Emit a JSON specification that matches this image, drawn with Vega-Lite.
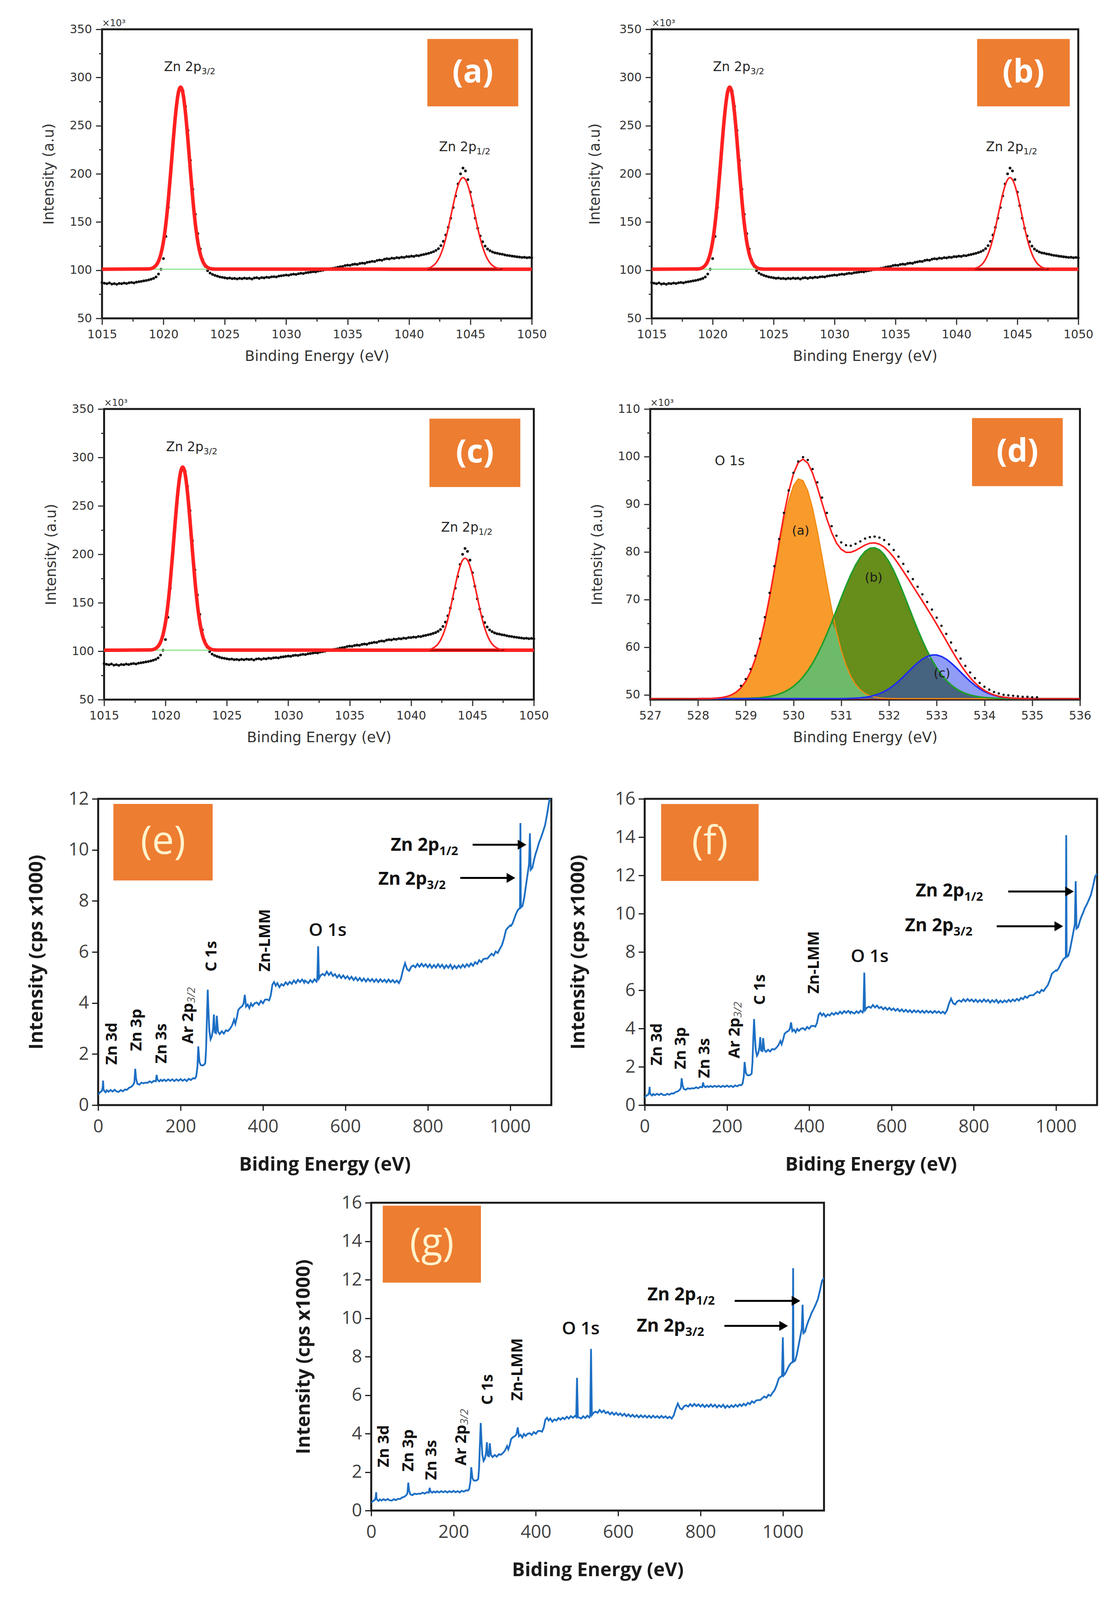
{
  "$schema": "https://vega.github.io/schema/vega-lite/v6.json",
  "background": "white",
  "padding": {"left": 67, "top": 45, "right": 0, "bottom": 10},
  "datasets": {
    "zn_pts": [
      {"x":1015.0,"y":87.2},{"x":1015.2,"y":86.5},{"x":1015.4,"y":86.0},{"x":1015.6,"y":86.8},{"x":1015.8,"y":85.6},
      {"x":1016.0,"y":86.1},{"x":1016.2,"y":85.4},{"x":1016.4,"y":86.3},{"x":1016.6,"y":86.0},{"x":1016.8,"y":86.7},
      {"x":1017.0,"y":86.2},{"x":1017.2,"y":86.9},{"x":1017.4,"y":87.3},{"x":1017.6,"y":86.8},{"x":1017.8,"y":87.6},
      {"x":1018.0,"y":88.0},{"x":1018.2,"y":88.4},{"x":1018.4,"y":88.9},{"x":1018.6,"y":89.3},{"x":1018.8,"y":89.9},
      {"x":1019.0,"y":90.6},{"x":1019.2,"y":91.5},{"x":1019.4,"y":93.0},{"x":1019.6,"y":96.0},{"x":1019.8,"y":101},
      {"x":1020.0,"y":112},{"x":1020.2,"y":135},{"x":1020.4,"y":165},{"x":1020.6,"y":200},{"x":1020.8,"y":236},
      {"x":1021.0,"y":266},{"x":1021.2,"y":285},{"x":1021.4,"y":290},{"x":1021.6,"y":286},{"x":1021.8,"y":270},
      {"x":1022.0,"y":245},{"x":1022.2,"y":214},{"x":1022.4,"y":184},{"x":1022.6,"y":158},{"x":1022.8,"y":138},
      {"x":1023.0,"y":122},{"x":1023.2,"y":111},{"x":1023.4,"y":104},{"x":1023.6,"y":99.5},{"x":1023.8,"y":97},
      {"x":1024.0,"y":95.6},{"x":1024.2,"y":94.6},{"x":1024.4,"y":93.8},{"x":1024.6,"y":93.0},{"x":1024.8,"y":92.6},
      {"x":1025.0,"y":92.1},{"x":1025.2,"y":91.6},{"x":1025.4,"y":91.9},{"x":1025.6,"y":91.2},{"x":1025.8,"y":91.5},
      {"x":1026.0,"y":90.9},{"x":1026.2,"y":91.6},{"x":1026.4,"y":91.1},{"x":1026.6,"y":91.8},{"x":1026.8,"y":91.3},
      {"x":1027.0,"y":91.7},{"x":1027.2,"y":90.8},{"x":1027.4,"y":91.9},{"x":1027.6,"y":92.2},{"x":1027.8,"y":91.5},
      {"x":1028.0,"y":92.3},{"x":1028.2,"y":92.0},{"x":1028.4,"y":92.8},{"x":1028.6,"y":92.4},{"x":1028.8,"y":93.1},
      {"x":1029.0,"y":93.3},{"x":1029.2,"y":93.0},{"x":1029.4,"y":93.9},{"x":1029.6,"y":94.2},{"x":1029.8,"y":94.6},
      {"x":1030.0,"y":95.0},{"x":1030.2,"y":94.7},{"x":1030.4,"y":95.5},{"x":1030.6,"y":95.9},{"x":1030.8,"y":95.6},
      {"x":1031.0,"y":96.3},{"x":1031.2,"y":96.8},{"x":1031.4,"y":96.5},{"x":1031.6,"y":97.3},{"x":1031.8,"y":97.6},
      {"x":1032.0,"y":98.0},{"x":1032.2,"y":98.4},{"x":1032.4,"y":98.2},{"x":1032.6,"y":99.1},{"x":1032.8,"y":99.5},
      {"x":1033.0,"y":100.0},{"x":1033.2,"y":100.6},{"x":1033.4,"y":100.9},{"x":1033.6,"y":101.6},{"x":1033.8,"y":102.0},
      {"x":1034.0,"y":102.4},{"x":1034.2,"y":103.1},{"x":1034.4,"y":103.6},{"x":1034.6,"y":103.9},{"x":1034.8,"y":104.8},
      {"x":1035.0,"y":105.2},{"x":1035.2,"y":105.0},{"x":1035.4,"y":105.9},{"x":1035.6,"y":106.3},{"x":1035.8,"y":106.0},
      {"x":1036.0,"y":107.0},{"x":1036.2,"y":107.4},{"x":1036.4,"y":107.1},{"x":1036.6,"y":108.2},{"x":1036.8,"y":108.6},
      {"x":1037.0,"y":109.2},{"x":1037.2,"y":109.0},{"x":1037.4,"y":110.1},{"x":1037.6,"y":110.6},{"x":1037.8,"y":110.3},
      {"x":1038.0,"y":111.4},{"x":1038.2,"y":111.9},{"x":1038.4,"y":111.6},{"x":1038.6,"y":112.5},{"x":1038.8,"y":112.2},
      {"x":1039.0,"y":113.0},{"x":1039.2,"y":112.7},{"x":1039.4,"y":113.5},{"x":1039.6,"y":113.2},{"x":1039.8,"y":114.1},
      {"x":1040.0,"y":114.0},{"x":1040.2,"y":114.6},{"x":1040.4,"y":114.3},{"x":1040.6,"y":115.2},{"x":1040.8,"y":115.0},
      {"x":1041.0,"y":115.8},{"x":1041.2,"y":116.3},{"x":1041.4,"y":116.9},{"x":1041.6,"y":117.5},{"x":1041.8,"y":118.3},
      {"x":1042.0,"y":119.2},{"x":1042.2,"y":120.5},{"x":1042.4,"y":122.4},{"x":1042.6,"y":125.5},{"x":1042.8,"y":130.0},
      {"x":1043.0,"y":136.5},{"x":1043.2,"y":144.5},{"x":1043.4,"y":154.0},{"x":1043.6,"y":165.0},{"x":1043.8,"y":177.0},
      {"x":1044.0,"y":189.5},{"x":1044.2,"y":200.0},{"x":1044.4,"y":206.0},{"x":1044.6,"y":203.0},{"x":1044.8,"y":194.0},
      {"x":1045.0,"y":181.0},{"x":1045.2,"y":167.0},{"x":1045.4,"y":154.0},{"x":1045.6,"y":143.5},{"x":1045.8,"y":135.5},
      {"x":1046.0,"y":129.5},{"x":1046.2,"y":125.0},{"x":1046.4,"y":122.0},{"x":1046.6,"y":120.2},{"x":1046.8,"y":118.9},
      {"x":1047.0,"y":118.0},{"x":1047.2,"y":117.6},{"x":1047.4,"y":116.9},{"x":1047.6,"y":116.6},{"x":1047.8,"y":115.9},
      {"x":1048.0,"y":115.4},{"x":1048.2,"y":115.1},{"x":1048.4,"y":114.6},{"x":1048.6,"y":114.3},{"x":1048.8,"y":113.9},
      {"x":1049.0,"y":113.6},{"x":1049.2,"y":113.2},{"x":1049.4,"y":113.4},{"x":1049.6,"y":112.9},{"x":1049.8,"y":113.2},
      {"x":1050.0,"y":112.8}
    ],
    "zn_fit1": [
      {"x":1015,"y":101},{"x":1018.8,"y":101.3},{"x":1019.0,"y":101.7},{"x":1019.2,"y":102.8},{"x":1019.4,"y":105.0},
      {"x":1019.6,"y":109.3},{"x":1019.8,"y":117.0},{"x":1020.0,"y":129.5},{"x":1020.2,"y":148.1},{"x":1020.4,"y":173.0},
      {"x":1020.6,"y":202.9},{"x":1020.8,"y":234.6},{"x":1021.0,"y":263.0},{"x":1021.2,"y":282.9},{"x":1021.4,"y":290},
      {"x":1021.6,"y":282.9},{"x":1021.8,"y":263.0},{"x":1022.0,"y":234.6},{"x":1022.2,"y":202.9},{"x":1022.4,"y":173.0},
      {"x":1022.6,"y":148.1},{"x":1022.8,"y":129.5},{"x":1023.0,"y":117.0},{"x":1023.2,"y":109.3},{"x":1023.4,"y":105.0},
      {"x":1023.6,"y":102.8},{"x":1023.8,"y":101.7},{"x":1024.0,"y":101.3},{"x":1024.2,"y":101.1},{"x":1050,"y":101}
    ],
    "zn_fit2": [
      {"x":1041.4,"y":101.6},{"x":1041.6,"y":102.2},{"x":1041.8,"y":103.2},{"x":1042.0,"y":104.9},{"x":1042.2,"y":107.5},
      {"x":1042.4,"y":111.4},{"x":1042.6,"y":116.8},{"x":1042.8,"y":124.0},{"x":1043.0,"y":133.1},{"x":1043.2,"y":143.8},
      {"x":1043.4,"y":155.6},{"x":1043.6,"y":167.6},{"x":1043.8,"y":178.8},{"x":1044.0,"y":187.9},{"x":1044.2,"y":193.9},
      {"x":1044.4,"y":196.0},{"x":1044.6,"y":193.9},{"x":1044.8,"y":187.9},{"x":1045.0,"y":178.8},{"x":1045.2,"y":167.6},
      {"x":1045.4,"y":155.6},{"x":1045.6,"y":143.8},{"x":1045.8,"y":133.1},{"x":1046.0,"y":124.0},{"x":1046.2,"y":116.8},
      {"x":1046.4,"y":111.4},{"x":1046.6,"y":107.5},{"x":1046.8,"y":104.9},{"x":1047.0,"y":103.2},{"x":1047.2,"y":102.2},
      {"x":1047.4,"y":101.6}
    ],
    "zn_lab": [
      {"x":1023.1,"y":306.5,"main":"Zn 2p","sub":"3/2"},
      {"x":1045.5,"y":223.5,"main":"Zn 2p","sub":"1/2"}
    ],
    "o1s": [
      {"x":528.0,"a":49.20,"b":49.20,"c":49.20,"ab":49.20,"bc":49.20,"env":49.20},
      {"x":528.1,"a":49.21,"b":49.20,"c":49.20,"ab":49.20,"bc":49.20,"env":49.21},
      {"x":528.2,"a":49.23,"b":49.20,"c":49.20,"ab":49.20,"bc":49.20,"env":49.23},
      {"x":528.3,"a":49.26,"b":49.20,"c":49.20,"ab":49.20,"bc":49.20,"env":49.26},
      {"x":528.4,"a":49.32,"b":49.20,"c":49.20,"ab":49.20,"bc":49.20,"env":49.32},
      {"x":528.5,"a":49.43,"b":49.20,"c":49.20,"ab":49.20,"bc":49.20,"env":49.43},
      {"x":528.6,"a":49.63,"b":49.20,"c":49.20,"ab":49.20,"bc":49.20,"env":49.63},
      {"x":528.7,"a":49.97,"b":49.21,"c":49.20,"ab":49.21,"bc":49.20,"env":49.98},
      {"x":528.8,"a":50.54,"b":49.22,"c":49.20,"ab":49.22,"bc":49.20,"env":50.56},
      {"x":528.9,"a":51.44,"b":49.23,"c":49.20,"ab":49.23,"bc":49.20,"env":51.47},
      {"x":529.0,"a":52.79,"b":49.25,"c":49.20,"ab":49.25,"bc":49.20,"env":52.84},
      {"x":529.1,"a":54.73,"b":49.28,"c":49.20,"ab":49.28,"bc":49.20,"env":54.81},
      {"x":529.2,"a":57.39,"b":49.33,"c":49.20,"ab":49.33,"bc":49.20,"env":57.52},
      {"x":529.3,"a":60.85,"b":49.40,"c":49.20,"ab":49.40,"bc":49.20,"env":61.05},
      {"x":529.4,"a":65.11,"b":49.51,"c":49.20,"ab":49.51,"bc":49.20,"env":65.42},
      {"x":529.5,"a":70.09,"b":49.66,"c":49.20,"ab":49.66,"bc":49.20,"env":70.55},
      {"x":529.6,"a":75.54,"b":49.87,"c":49.20,"ab":49.87,"bc":49.20,"env":76.21},
      {"x":529.7,"a":81.12,"b":50.16,"c":49.20,"ab":50.16,"bc":49.20,"env":82.08},
      {"x":529.8,"a":86.36,"b":50.56,"c":49.20,"ab":50.56,"bc":49.20,"env":87.72},
      {"x":529.9,"a":90.76,"b":51.09,"c":49.20,"ab":51.09,"bc":49.20,"env":92.65},
      {"x":530.0,"a":93.87,"b":51.77,"c":49.20,"ab":51.77,"bc":49.20,"env":96.44},
      {"x":530.1,"a":95.32,"b":52.64,"c":49.20,"ab":52.64,"bc":49.20,"env":98.76},
      {"x":530.2,"a":94.95,"b":53.72,"c":49.20,"ab":53.72,"bc":49.20,"env":99.47},
      {"x":530.3,"a":92.80,"b":55.05,"c":49.20,"ab":55.05,"bc":49.20,"env":98.65},
      {"x":530.4,"a":89.13,"b":56.61,"c":49.20,"ab":56.61,"bc":49.20,"env":96.54},
      {"x":530.5,"a":84.33,"b":58.44,"c":49.20,"ab":58.44,"bc":49.20,"env":93.57},
      {"x":530.6,"a":78.90,"b":60.50,"c":49.20,"ab":60.50,"bc":49.20,"env":90.20},
      {"x":530.7,"a":73.32,"b":62.78,"c":49.20,"ab":62.78,"bc":49.20,"env":86.90},
      {"x":530.8,"a":68.03,"b":65.23,"c":49.20,"ab":65.23,"bc":49.20,"env":84.06},
      {"x":530.9,"a":63.31,"b":67.78,"c":49.20,"ab":63.31,"bc":49.20,"env":81.89},
      {"x":531.0,"a":59.37,"b":70.36,"c":49.21,"ab":59.37,"bc":49.21,"env":80.54},
      {"x":531.1,"a":56.24,"b":72.85,"c":49.23,"ab":56.24,"bc":49.23,"env":79.92},
      {"x":531.2,"a":53.88,"b":75.18,"c":49.26,"ab":53.88,"bc":49.26,"env":79.92},
      {"x":531.3,"a":52.19,"b":77.22,"c":49.30,"ab":52.19,"bc":49.30,"env":80.31},
      {"x":531.4,"a":51.03,"b":78.88,"c":49.37,"ab":51.03,"bc":49.37,"env":80.88},
      {"x":531.5,"a":50.28,"b":80.09,"c":49.48,"ab":50.28,"bc":49.48,"env":81.45},
      {"x":531.6,"a":49.81,"b":80.76,"c":49.65,"ab":49.81,"bc":49.65,"env":81.82},
      {"x":531.7,"a":49.53,"b":80.87,"c":49.90,"ab":49.53,"bc":49.90,"env":81.90},
      {"x":531.8,"a":49.37,"b":80.42,"c":50.23,"ab":49.37,"bc":50.23,"env":81.62},
      {"x":531.9,"a":49.29,"b":79.43,"c":50.69,"ab":49.29,"bc":50.69,"env":81.01},
      {"x":532.0,"a":49.24,"b":77.94,"c":51.27,"ab":49.24,"bc":51.27,"env":80.05},
      {"x":532.1,"a":49.22,"b":76.04,"c":51.99,"ab":49.22,"bc":51.99,"env":78.85},
      {"x":532.2,"a":49.21,"b":73.81,"c":52.83,"ab":49.21,"bc":52.83,"env":77.45},
      {"x":532.3,"a":49.20,"b":71.37,"c":53.78,"ab":49.20,"bc":53.78,"env":75.95},
      {"x":532.4,"a":49.20,"b":68.82,"c":54.78,"ab":49.20,"bc":54.78,"env":74.40},
      {"x":532.5,"a":49.20,"b":66.24,"c":55.78,"ab":49.20,"bc":55.78,"env":72.82},
      {"x":532.6,"a":49.20,"b":63.74,"c":56.71,"ab":49.20,"bc":56.71,"env":71.25},
      {"x":532.7,"a":49.20,"b":61.39,"c":57.50,"ab":49.20,"bc":57.50,"env":69.69},
      {"x":532.8,"a":49.20,"b":59.23,"c":58.06,"ab":49.20,"bc":58.06,"env":68.09},
      {"x":532.9,"a":49.20,"b":57.31,"c":58.36,"ab":49.20,"bc":57.31,"env":66.47},
      {"x":533.0,"a":49.20,"b":55.64,"c":58.36,"ab":49.20,"bc":55.64,"env":64.80},
      {"x":533.1,"a":49.20,"b":54.22,"c":58.06,"ab":49.20,"bc":54.22,"env":63.08},
      {"x":533.2,"a":49.20,"b":53.05,"c":57.50,"ab":49.20,"bc":53.05,"env":61.35},
      {"x":533.3,"a":49.20,"b":52.09,"c":56.71,"ab":49.20,"bc":52.09,"env":59.60},
      {"x":533.4,"a":49.20,"b":51.34,"c":55.78,"ab":49.20,"bc":51.34,"env":57.92},
      {"x":533.5,"a":49.20,"b":50.75,"c":54.78,"ab":49.20,"bc":50.75,"env":56.33},
      {"x":533.6,"a":49.20,"b":50.31,"c":53.78,"ab":49.20,"bc":50.31,"env":54.89},
      {"x":533.7,"a":49.20,"b":49.97,"c":52.83,"ab":49.20,"bc":49.97,"env":53.60},
      {"x":533.8,"a":49.20,"b":49.73,"c":51.99,"ab":49.20,"bc":49.73,"env":52.52},
      {"x":533.9,"a":49.20,"b":49.56,"c":51.27,"ab":49.20,"bc":49.56,"env":51.63},
      {"x":534.0,"a":49.20,"b":49.44,"c":50.69,"ab":49.20,"bc":49.44,"env":50.93},
      {"x":534.1,"a":49.20,"b":49.36,"c":50.23,"ab":49.20,"bc":49.36,"env":50.39},
      {"x":534.2,"a":49.20,"b":49.30,"c":49.90,"ab":49.20,"bc":49.30,"env":50.00},
      {"x":534.3,"a":49.20,"b":49.26,"c":49.65,"ab":49.20,"bc":49.26,"env":49.71},
      {"x":534.4,"a":49.20,"b":49.24,"c":49.48,"ab":49.20,"bc":49.24,"env":49.52},
      {"x":534.5,"a":49.20,"b":49.22,"c":49.37,"ab":49.20,"bc":49.22,"env":49.39},
      {"x":534.6,"a":49.20,"b":49.21,"c":49.30,"ab":49.20,"bc":49.21,"env":49.31},
      {"x":534.7,"a":49.20,"b":49.20,"c":49.26,"ab":49.20,"bc":49.20,"env":49.26},
      {"x":534.8,"a":49.20,"b":49.20,"c":49.23,"ab":49.20,"bc":49.20,"env":49.23},
      {"x":534.9,"a":49.20,"b":49.20,"c":49.21,"ab":49.20,"bc":49.20,"env":49.21},
      {"x":535.0,"a":49.20,"b":49.20,"c":49.20,"ab":49.20,"bc":49.20,"env":49.20}
    ],
    "o1s_pts": [
      {"x":528.9,"y":51.9},{"x":529.0,"y":53.3},{"x":529.1,"y":55.4},{"x":529.2,"y":58.2},{"x":529.3,"y":61.8},
      {"x":529.4,"y":66.3},{"x":529.5,"y":71.4},{"x":529.6,"y":77.0},{"x":529.7,"y":82.7},{"x":529.8,"y":88.2},
      {"x":529.9,"y":92.9},{"x":530.0,"y":96.6},{"x":530.1,"y":99.0},{"x":530.2,"y":99.9},{"x":530.3,"y":99.3},
      {"x":530.4,"y":97.4},{"x":530.5,"y":94.6},{"x":530.6,"y":91.4},{"x":530.7,"y":88.2},{"x":530.8,"y":85.4},
      {"x":530.9,"y":83.4},{"x":531.0,"y":82.0},{"x":531.1,"y":81.4},{"x":531.2,"y":81.3},{"x":531.3,"y":81.7},
      {"x":531.4,"y":82.2},{"x":531.5,"y":82.8},{"x":531.6,"y":83.1},{"x":531.7,"y":83.2},{"x":531.8,"y":83.0},
      {"x":531.9,"y":82.5},{"x":532.0,"y":81.6},{"x":532.1,"y":80.4},{"x":532.2,"y":79.0},{"x":532.3,"y":77.5},
      {"x":532.4,"y":75.9},{"x":532.5,"y":74.3},{"x":532.6,"y":72.7},{"x":532.7,"y":71.1},{"x":532.8,"y":69.5},
      {"x":532.9,"y":67.9},{"x":533.0,"y":66.2},{"x":533.1,"y":64.5},{"x":533.2,"y":62.8},{"x":533.3,"y":61.0},
      {"x":533.4,"y":59.3},{"x":533.5,"y":57.6},{"x":533.6,"y":56.1},{"x":533.7,"y":54.7},{"x":533.8,"y":53.5},
      {"x":533.9,"y":52.5},{"x":534.0,"y":51.7},{"x":534.1,"y":51.1},{"x":534.2,"y":50.6},{"x":534.3,"y":50.3},
      {"x":534.4,"y":50.0},{"x":534.5,"y":49.9},{"x":534.6,"y":49.8},{"x":534.7,"y":49.7},{"x":534.8,"y":49.6},
      {"x":534.9,"y":49.6},{"x":535.0,"y":49.5},{"x":535.1,"y":49.5}
    ],
    "survey": [
      {"x":0,"e":0.40,"f":0.40,"g":0.40},{"x":3,"e":0.47,"f":0.47,"g":0.47},{"x":6,"e":0.52,"f":0.52,"g":0.52},
      {"x":9,"e":0.55,"f":0.55,"g":0.55},{"x":11,"e":0.70,"f":0.70,"g":0.70},{"x":12,"e":0.96,"f":0.95,"g":0.95},
      {"x":13,"e":0.62,"f":0.62,"g":0.62},{"x":15,"e":0.55,"f":0.55,"g":0.55},{"x":18,"e":0.50,"f":0.50,"g":0.50},
      {"x":21,"e":0.58,"f":0.58,"g":0.58},{"x":25,"e":0.52,"f":0.52,"g":0.52},{"x":30,"e":0.59,"f":0.59,"g":0.59},
      {"x":35,"e":0.53,"f":0.53,"g":0.53},{"x":40,"e":0.60,"f":0.60,"g":0.60},{"x":45,"e":0.53,"f":0.53,"g":0.53},
      {"x":50,"e":0.52,"f":0.52,"g":0.52},{"x":55,"e":0.59,"f":0.59,"g":0.59},{"x":60,"e":0.54,"f":0.54,"g":0.54},
      {"x":65,"e":0.61,"f":0.61,"g":0.61},{"x":70,"e":0.60,"f":0.60,"g":0.60},{"x":75,"e":0.68,"f":0.68,"g":0.68},
      {"x":80,"e":0.71,"f":0.71,"g":0.71},{"x":85,"e":0.79,"f":0.79,"g":0.79},{"x":88,"e":0.90,"f":0.90,"g":0.90},
      {"x":90,"e":1.42,"f":1.40,"g":1.45},{"x":92,"e":1.05,"f":1.05,"g":1.05},{"x":95,"e":0.84,"f":0.84,"g":0.84},
      {"x":100,"e":0.80,"f":0.80,"g":0.80},{"x":105,"e":0.88,"f":0.88,"g":0.88},{"x":110,"e":0.85,"f":0.85,"g":0.85},
      {"x":115,"e":0.88,"f":0.88,"g":0.88},{"x":120,"e":0.87,"f":0.87,"g":0.87},{"x":125,"e":0.93,"f":0.93,"g":0.93},
      {"x":130,"e":0.88,"f":0.88,"g":0.88},{"x":135,"e":0.95,"f":0.95,"g":0.95},{"x":140,"e":0.93,"f":0.93,"g":0.93},
      {"x":142,"e":1.18,"f":1.18,"g":1.18},{"x":144,"e":1.00,"f":1.00,"g":1.00},{"x":148,"e":0.93,"f":0.93,"g":0.93},
      {"x":152,"e":0.99,"f":0.99,"g":0.99},{"x":156,"e":0.94,"f":0.94,"g":0.94},{"x":160,"e":1.00,"f":1.00,"g":1.00},
      {"x":165,"e":0.94,"f":0.94,"g":0.94},{"x":170,"e":1.01,"f":1.01,"g":1.01},{"x":175,"e":0.95,"f":0.95,"g":0.95},
      {"x":180,"e":1.01,"f":1.01,"g":1.01},{"x":185,"e":0.94,"f":0.94,"g":0.94},{"x":190,"e":1.01,"f":1.01,"g":1.01},
      {"x":195,"e":0.95,"f":0.95,"g":0.95},{"x":200,"e":1.02,"f":1.02,"g":1.02},{"x":205,"e":0.95,"f":0.95,"g":0.95},
      {"x":210,"e":1.01,"f":1.01,"g":1.01},{"x":215,"e":0.94,"f":0.94,"g":0.94},{"x":220,"e":1.03,"f":1.03,"g":1.03},
      {"x":225,"e":0.98,"f":0.98,"g":0.98},{"x":230,"e":1.05,"f":1.05,"g":1.05},{"x":235,"e":1.04,"f":1.04,"g":1.04},
      {"x":238,"e":1.12,"f":1.12,"g":1.12},{"x":241,"e":1.50,"f":1.50,"g":1.50},{"x":243,"e":2.30,"f":2.25,"g":2.25},
      {"x":246,"e":1.68,"f":1.68,"g":1.68},{"x":249,"e":1.57,"f":1.57,"g":1.57},{"x":253,"e":1.55,"f":1.55,"g":1.55},
      {"x":257,"e":1.58,"f":1.58,"g":1.58},{"x":260,"e":1.64,"f":1.64,"g":1.64},{"x":262,"e":2.20,"f":2.20,"g":2.20},
      {"x":264,"e":3.40,"f":3.40,"g":3.40},{"x":266,"e":4.52,"f":4.50,"g":4.55},{"x":268,"e":3.60,"f":3.60,"g":3.60},
      {"x":270,"e":2.90,"f":2.90,"g":2.90},{"x":273,"e":2.58,"f":2.58,"g":2.58},{"x":276,"e":2.70,"f":2.70,"g":2.70},
      {"x":279,"e":3.00,"f":3.00,"g":3.00},{"x":281,"e":3.55,"f":3.55,"g":3.55},{"x":283,"e":2.85,"f":2.85,"g":2.85},
      {"x":286,"e":2.82,"f":2.82,"g":2.82},{"x":288,"e":3.50,"f":3.50,"g":3.50},{"x":291,"e":2.88,"f":2.88,"g":2.88},
      {"x":295,"e":2.78,"f":2.78,"g":2.78},{"x":300,"e":2.89,"f":2.89,"g":2.89},{"x":305,"e":2.80,"f":2.80,"g":2.80},
      {"x":310,"e":2.93,"f":2.93,"g":2.93},{"x":315,"e":2.90,"f":2.90,"g":2.90},{"x":320,"e":2.99,"f":2.99,"g":2.99},
      {"x":325,"e":3.12,"f":3.12,"g":3.12},{"x":330,"e":3.35,"f":3.35,"g":3.35},{"x":333,"e":3.18,"f":3.18,"g":3.18},
      {"x":337,"e":3.45,"f":3.45,"g":3.45},{"x":340,"e":3.72,"f":3.72,"g":3.72},{"x":345,"e":3.82,"f":3.82,"g":3.82},
      {"x":350,"e":3.88,"f":3.88,"g":3.88},{"x":353,"e":3.98,"f":3.98,"g":3.98},{"x":356,"e":4.32,"f":4.32,"g":4.32},
      {"x":359,"e":3.86,"f":3.86,"g":3.86},{"x":363,"e":3.94,"f":3.94,"g":3.94},{"x":367,"e":3.80,"f":3.80,"g":3.80},
      {"x":371,"e":3.98,"f":3.98,"g":3.98},{"x":375,"e":3.88,"f":3.88,"g":3.88},{"x":380,"e":3.99,"f":3.99,"g":3.99},
      {"x":385,"e":4.02,"f":4.02,"g":4.02},{"x":390,"e":3.93,"f":3.93,"g":3.93},{"x":395,"e":4.08,"f":4.08,"g":4.08},
      {"x":400,"e":3.99,"f":3.99,"g":3.99},{"x":405,"e":4.13,"f":4.13,"g":4.13},{"x":410,"e":4.14,"f":4.14,"g":4.14},
      {"x":415,"e":4.10,"f":4.10,"g":4.10},{"x":419,"e":4.30,"f":4.30,"g":4.30},{"x":423,"e":4.72,"f":4.72,"g":4.72},
      {"x":427,"e":4.82,"f":4.82,"g":4.82},{"x":431,"e":4.68,"f":4.68,"g":4.68},{"x":435,"e":4.78,"f":4.78,"g":4.78},
      {"x":440,"e":4.62,"f":4.62,"g":4.62},{"x":445,"e":4.74,"f":4.74,"g":4.74},{"x":450,"e":4.68,"f":4.68,"g":4.68},
      {"x":455,"e":4.81,"f":4.81,"g":4.81},{"x":460,"e":4.72,"f":4.72,"g":4.72},{"x":465,"e":4.83,"f":4.83,"g":4.83},
      {"x":470,"e":4.75,"f":4.75,"g":4.75},{"x":475,"e":4.88,"f":4.88,"g":4.88},{"x":480,"e":4.78,"f":4.78,"g":4.78},
      {"x":485,"e":4.91,"f":4.91,"g":4.91},{"x":490,"e":4.82,"f":4.82,"g":4.82},{"x":495,"e":4.92,"f":4.92,"g":4.92},
      {"x":498,"e":4.86,"f":4.86,"g":4.86},{"x":500,"e":4.80,"f":4.80,"g":6.90},{"x":502,"e":4.88,"f":4.88,"g":4.85},
      {"x":505,"e":4.84,"f":4.84,"g":4.84},{"x":510,"e":4.78,"f":4.78,"g":4.78},{"x":515,"e":4.90,"f":4.90,"g":4.90},
      {"x":520,"e":4.81,"f":4.81,"g":4.81},{"x":525,"e":4.93,"f":4.93,"g":4.93},{"x":530,"e":4.84,"f":4.84,"g":4.84},
      {"x":532,"e":4.97,"f":4.97,"g":4.97},{"x":534,"e":6.22,"f":6.92,"g":8.40},{"x":536,"e":4.96,"f":4.96,"g":4.96},
      {"x":540,"e":5.08,"f":5.08,"g":5.08},{"x":545,"e":5.14,"f":5.14,"g":5.14},{"x":550,"e":5.08,"f":5.08,"g":5.08},
      {"x":555,"e":5.23,"f":5.23,"g":5.23},{"x":560,"e":5.10,"f":5.10,"g":5.10},{"x":565,"e":5.20,"f":5.20,"g":5.20},
      {"x":570,"e":5.06,"f":5.06,"g":5.06},{"x":575,"e":5.13,"f":5.13,"g":5.13},{"x":580,"e":5.00,"f":5.00,"g":5.00},
      {"x":585,"e":5.10,"f":5.10,"g":5.10},{"x":590,"e":4.98,"f":4.98,"g":4.98},{"x":595,"e":5.08,"f":5.08,"g":5.08},
      {"x":600,"e":4.96,"f":4.96,"g":4.96},{"x":605,"e":5.05,"f":5.05,"g":5.05},{"x":610,"e":4.93,"f":4.93,"g":4.93},
      {"x":615,"e":5.03,"f":5.03,"g":5.03},{"x":620,"e":4.90,"f":4.90,"g":4.90},{"x":625,"e":5.00,"f":5.00,"g":5.00},
      {"x":630,"e":4.88,"f":4.88,"g":4.88},{"x":635,"e":4.98,"f":4.98,"g":4.98},{"x":640,"e":4.86,"f":4.86,"g":4.86},
      {"x":645,"e":4.96,"f":4.96,"g":4.96},{"x":650,"e":4.84,"f":4.84,"g":4.84},{"x":655,"e":4.95,"f":4.95,"g":4.95},
      {"x":660,"e":4.85,"f":4.85,"g":4.85},{"x":665,"e":4.94,"f":4.94,"g":4.94},{"x":670,"e":4.83,"f":4.83,"g":4.83},
      {"x":675,"e":4.93,"f":4.93,"g":4.93},{"x":680,"e":4.82,"f":4.82,"g":4.82},{"x":685,"e":4.93,"f":4.93,"g":4.93},
      {"x":690,"e":4.83,"f":4.83,"g":4.83},{"x":695,"e":4.91,"f":4.91,"g":4.91},{"x":700,"e":4.81,"f":4.81,"g":4.81},
      {"x":705,"e":4.92,"f":4.92,"g":4.92},{"x":710,"e":4.82,"f":4.82,"g":4.82},{"x":715,"e":4.90,"f":4.90,"g":4.90},
      {"x":720,"e":4.80,"f":4.80,"g":4.80},{"x":725,"e":4.88,"f":4.88,"g":4.88},{"x":730,"e":4.78,"f":4.78,"g":4.78},
      {"x":735,"e":4.95,"f":4.95,"g":4.95},{"x":740,"e":5.30,"f":5.30,"g":5.30},{"x":745,"e":5.56,"f":5.56,"g":5.56},
      {"x":750,"e":5.32,"f":5.32,"g":5.32},{"x":755,"e":5.26,"f":5.26,"g":5.26},{"x":760,"e":5.42,"f":5.42,"g":5.42},
      {"x":765,"e":5.47,"f":5.47,"g":5.47},{"x":770,"e":5.40,"f":5.40,"g":5.40},{"x":775,"e":5.53,"f":5.53,"g":5.53},
      {"x":780,"e":5.42,"f":5.42,"g":5.42},{"x":785,"e":5.54,"f":5.54,"g":5.54},{"x":790,"e":5.43,"f":5.43,"g":5.43},
      {"x":795,"e":5.52,"f":5.52,"g":5.52},{"x":800,"e":5.40,"f":5.40,"g":5.40},{"x":805,"e":5.51,"f":5.51,"g":5.51},
      {"x":810,"e":5.38,"f":5.38,"g":5.38},{"x":815,"e":5.49,"f":5.49,"g":5.49},{"x":820,"e":5.39,"f":5.39,"g":5.39},
      {"x":825,"e":5.52,"f":5.52,"g":5.52},{"x":830,"e":5.40,"f":5.40,"g":5.40},{"x":835,"e":5.50,"f":5.50,"g":5.50},
      {"x":840,"e":5.36,"f":5.36,"g":5.36},{"x":845,"e":5.48,"f":5.48,"g":5.48},{"x":850,"e":5.38,"f":5.38,"g":5.38},
      {"x":855,"e":5.50,"f":5.50,"g":5.50},{"x":860,"e":5.34,"f":5.34,"g":5.34},{"x":865,"e":5.46,"f":5.46,"g":5.46},
      {"x":870,"e":5.36,"f":5.36,"g":5.36},{"x":875,"e":5.47,"f":5.47,"g":5.47},{"x":880,"e":5.38,"f":5.38,"g":5.38},
      {"x":885,"e":5.50,"f":5.50,"g":5.50},{"x":890,"e":5.40,"f":5.40,"g":5.40},{"x":895,"e":5.52,"f":5.52,"g":5.52},
      {"x":900,"e":5.43,"f":5.43,"g":5.43},{"x":905,"e":5.55,"f":5.55,"g":5.55},{"x":910,"e":5.46,"f":5.46,"g":5.46},
      {"x":915,"e":5.60,"f":5.60,"g":5.60},{"x":920,"e":5.53,"f":5.53,"g":5.53},{"x":925,"e":5.68,"f":5.68,"g":5.68},
      {"x":930,"e":5.60,"f":5.60,"g":5.60},{"x":935,"e":5.72,"f":5.72,"g":5.72},{"x":940,"e":5.74,"f":5.74,"g":5.74},
      {"x":945,"e":5.74,"f":5.74,"g":5.74},{"x":950,"e":5.84,"f":5.84,"g":5.84},{"x":955,"e":5.93,"f":5.93,"g":5.93},
      {"x":960,"e":5.86,"f":5.86,"g":5.86},{"x":965,"e":6.02,"f":6.02,"g":6.02},{"x":970,"e":5.96,"f":5.96,"g":5.96},
      {"x":975,"e":6.12,"f":6.12,"g":6.12},{"x":980,"e":6.26,"f":6.26,"g":6.26},{"x":985,"e":6.52,"f":6.52,"g":6.52},
      {"x":990,"e":6.86,"f":6.86,"g":6.86},{"x":995,"e":6.96,"f":6.96,"g":6.96},{"x":998,"e":7.00,"f":7.00,"g":7.00},
      {"x":1000,"e":7.04,"f":7.04,"g":9.00},{"x":1002,"e":7.02,"f":7.02,"g":7.02},{"x":1006,"e":7.12,"f":7.12,"g":7.12},
      {"x":1010,"e":7.30,"f":7.30,"g":7.30},{"x":1014,"e":7.48,"f":7.48,"g":7.48},{"x":1018,"e":7.62,"f":7.62,"g":7.62},
      {"x":1022,"e":7.70,"f":7.70,"g":7.70},{"x":1024,"e":7.72,"f":7.72,"g":7.72},{"x":1025,"e":11.05,"f":14.10,"g":12.60},
      {"x":1026,"e":7.74,"f":7.74,"g":7.74},{"x":1030,"e":7.80,"f":7.80,"g":7.80},{"x":1034,"e":8.10,"f":8.10,"g":8.10},
      {"x":1038,"e":8.55,"f":8.55,"g":8.55},{"x":1042,"e":9.00,"f":9.00,"g":9.00},{"x":1046,"e":9.45,"f":9.45,"g":9.45},
      {"x":1048,"e":10.65,"f":11.70,"g":10.70},{"x":1050,"e":9.22,"f":9.22,"g":9.22},{"x":1054,"e":9.30,"f":9.30,"g":9.30},
      {"x":1058,"e":9.60,"f":9.60,"g":9.60},{"x":1062,"e":9.85,"f":9.85,"g":9.85},{"x":1066,"e":10.05,"f":10.05,"g":10.05},
      {"x":1070,"e":10.28,"f":10.28,"g":10.28},{"x":1075,"e":10.48,"f":10.48,"g":10.48},{"x":1080,"e":10.72,"f":10.72,"g":10.72},
      {"x":1085,"e":10.98,"f":10.98,"g":10.98},{"x":1090,"e":11.42,"f":11.42,"g":11.42},{"x":1095,"e":11.92,"f":11.92,"g":11.92},
      {"x":1100,"e":12.10,"f":12.10,"g":12.10}
    ]
  },
  "spacing": 44,
  "center": true,
  "vconcat": [
    {
      "spacing": 100,
      "hconcat": [
        {
          "width": 1100, "height": 740,
          "layer": [
            {"data": {"name": "zn_pts"}, "mark": {"type": "circle", "size": 50, "color": "#111111", "opacity": 1},
             "encoding": {
               "x": {"field": "x", "type": "quantitative", "scale": {"domain": [1015, 1050], "nice": false, "zero": false},
                     "axis": {"values": [1015,1017.5,1020,1022.5,1025,1027.5,1030,1032.5,1035,1037.5,1040,1042.5,1045,1047.5,1050],
                              "format": "d", "labelExpr": "datum.value % 5 == 0 ? datum.label : ''",
                              "tickSize": {"condition": {"test": "datum.value % 5 == 0", "value": 16}, "value": 8},
                              "tickWidth": 3, "tickColor": "#333333", "labelFont": "DejaVu Sans", "labelFontSize": 30,
                              "labelColor": "#333333", "labelPadding": 10, "title": "Binding Energy (eV)", "titleFont": "DejaVu Sans",
                              "titleFontSize": 37, "titleFontWeight": "normal", "titleColor": "#333333", "titlePadding": 23}},
               "y": {"field": "y", "type": "quantitative", "scale": {"domain": [50, 350], "nice": false, "zero": false},
                     "axis": {"values": [50,75,100,125,150,175,200,225,250,275,300,325,350],
                              "format": "d", "labelExpr": "datum.value % 50 == 0 ? datum.label : ''",
                              "tickSize": {"condition": {"test": "datum.value % 50 == 0", "value": 16}, "value": 8},
                              "tickWidth": 3, "tickColor": "#333333", "labelFont": "DejaVu Sans", "labelFontSize": 30,
                              "labelColor": "#333333", "labelPadding": 10, "title": "Intensity (a.u)", "titleFont": "DejaVu Sans",
                              "titleFontSize": 37, "titleFontWeight": "normal", "titleColor": "#333333", "titlePadding": 33}}
             }},
            {"data": {"values": [{"x": 1015, "y": 101}, {"x": 1050, "y": 101}]},
             "mark": {"type": "line", "color": "#8ee68e", "strokeWidth": 3},
             "encoding": {"x": {"field": "x", "type": "quantitative"}, "y": {"field": "y", "type": "quantitative"}}},
            {"data": {"name": "zn_fit1"}, "mark": {"type": "line", "color": "#ff2020", "strokeWidth": 9, "strokeJoin": "round", "interpolate": "monotone"},
             "encoding": {"x": {"field": "x", "type": "quantitative"}, "y": {"field": "y", "type": "quantitative"}}},
            {"data": {"values": [{"x": 1041.5, "y": 101}, {"x": 1047.6, "y": 101}]},
             "mark": {"type": "line", "color": "#b40d0d", "strokeWidth": 5},
             "encoding": {"x": {"field": "x", "type": "quantitative"}, "y": {"field": "y", "type": "quantitative"}}},
            {"data": {"name": "zn_fit2"}, "mark": {"type": "line", "color": "#ff2020", "strokeWidth": 4, "interpolate": "monotone"},
             "encoding": {"x": {"field": "x", "type": "quantitative"}, "y": {"field": "y", "type": "quantitative"}}},
            {"data": {"name": "zn_lab"}, "mark": {"type": "text", "align": "right", "baseline": "alphabetic", "font": "DejaVu Sans", "fontSize": 33, "color": "#262626"},
             "encoding": {"x": {"field": "x", "type": "quantitative"}, "y": {"field": "y", "type": "quantitative"}, "text": {"field": "main"}}},
            {"data": {"name": "zn_lab"}, "mark": {"type": "text", "align": "left", "baseline": "alphabetic", "dy": 8, "font": "DejaVu Sans", "fontSize": 22, "color": "#262626"},
             "encoding": {"x": {"field": "x", "type": "quantitative"}, "y": {"field": "y", "type": "quantitative"}, "text": {"field": "sub"}}},
            {"data": {"values": [{"x1": 1041.5, "x2": 1048.9, "y1": 270, "y2": 340, "xc": 1045.2, "yc": 305, "t": "(a)"}]},
             "layer": [
               {"mark": {"type": "rect", "color": "#ed7d31"},
                "encoding": {"x": {"field": "x1", "type": "quantitative"}, "x2": {"field": "x2"}, "y": {"field": "y1", "type": "quantitative"}, "y2": {"field": "y2"}}},
               {"mark": {"type": "text", "font": "Open Sans", "fontWeight": "bold", "fontSize": 82, "color": "#ffffff", "align": "center", "baseline": "middle"},
                "encoding": {"x": {"field": "xc", "type": "quantitative"}, "y": {"field": "yc", "type": "quantitative"}, "text": {"field": "t"}}}
             ]},
            {"data": {"values": [{"x": 1015, "y": 350}]},
             "mark": {"type": "text", "align": "left", "baseline": "bottom", "dy": -3, "font": "DejaVu Sans", "fontSize": 24, "color": "#333333"},
             "encoding": {"x": {"field": "x", "type": "quantitative"}, "y": {"field": "y", "type": "quantitative"}, "text": {"value": "×10³"}}}
          ]
        },
        {
          "width": 1092, "height": 740,
          "layer": [
            {"data": {"name": "zn_pts"}, "mark": {"type": "circle", "size": 50, "color": "#111111", "opacity": 1},
             "encoding": {
               "x": {"field": "x", "type": "quantitative", "scale": {"domain": [1015, 1050], "nice": false, "zero": false},
                     "axis": {"values": [1015,1017.5,1020,1022.5,1025,1027.5,1030,1032.5,1035,1037.5,1040,1042.5,1045,1047.5,1050],
                              "format": "d", "labelExpr": "datum.value % 5 == 0 ? datum.label : ''",
                              "tickSize": {"condition": {"test": "datum.value % 5 == 0", "value": 16}, "value": 8},
                              "tickWidth": 3, "tickColor": "#333333", "labelFont": "DejaVu Sans", "labelFontSize": 30,
                              "labelColor": "#333333", "labelPadding": 10, "title": "Binding Energy (eV)", "titleFont": "DejaVu Sans",
                              "titleFontSize": 37, "titleFontWeight": "normal", "titleColor": "#333333", "titlePadding": 23}},
               "y": {"field": "y", "type": "quantitative", "scale": {"domain": [50, 350], "nice": false, "zero": false},
                     "axis": {"values": [50,75,100,125,150,175,200,225,250,275,300,325,350],
                              "format": "d", "labelExpr": "datum.value % 50 == 0 ? datum.label : ''",
                              "tickSize": {"condition": {"test": "datum.value % 50 == 0", "value": 16}, "value": 8},
                              "tickWidth": 3, "tickColor": "#333333", "labelFont": "DejaVu Sans", "labelFontSize": 30,
                              "labelColor": "#333333", "labelPadding": 10, "title": "Intensity (a.u)", "titleFont": "DejaVu Sans",
                              "titleFontSize": 37, "titleFontWeight": "normal", "titleColor": "#333333", "titlePadding": 42}}
             }},
            {"data": {"values": [{"x": 1015, "y": 101}, {"x": 1050, "y": 101}]},
             "mark": {"type": "line", "color": "#8ee68e", "strokeWidth": 3},
             "encoding": {"x": {"field": "x", "type": "quantitative"}, "y": {"field": "y", "type": "quantitative"}}},
            {"data": {"name": "zn_fit1"}, "mark": {"type": "line", "color": "#ff2020", "strokeWidth": 9, "strokeJoin": "round", "interpolate": "monotone"},
             "encoding": {"x": {"field": "x", "type": "quantitative"}, "y": {"field": "y", "type": "quantitative"}}},
            {"data": {"values": [{"x": 1041.5, "y": 101}, {"x": 1047.6, "y": 101}]},
             "mark": {"type": "line", "color": "#b40d0d", "strokeWidth": 5},
             "encoding": {"x": {"field": "x", "type": "quantitative"}, "y": {"field": "y", "type": "quantitative"}}},
            {"data": {"name": "zn_fit2"}, "mark": {"type": "line", "color": "#ff2020", "strokeWidth": 4, "interpolate": "monotone"},
             "encoding": {"x": {"field": "x", "type": "quantitative"}, "y": {"field": "y", "type": "quantitative"}}},
            {"data": {"name": "zn_lab"}, "mark": {"type": "text", "align": "right", "baseline": "alphabetic", "font": "DejaVu Sans", "fontSize": 33, "color": "#262626"},
             "encoding": {"x": {"field": "x", "type": "quantitative"}, "y": {"field": "y", "type": "quantitative"}, "text": {"field": "main"}}},
            {"data": {"name": "zn_lab"}, "mark": {"type": "text", "align": "left", "baseline": "alphabetic", "dy": 8, "font": "DejaVu Sans", "fontSize": 22, "color": "#262626"},
             "encoding": {"x": {"field": "x", "type": "quantitative"}, "y": {"field": "y", "type": "quantitative"}, "text": {"field": "sub"}}},
            {"data": {"values": [{"x1": 1041.7, "x2": 1049.3, "y1": 270, "y2": 340, "xc": 1045.5, "yc": 305, "t": "(b)"}]},
             "layer": [
               {"mark": {"type": "rect", "color": "#ed7d31"},
                "encoding": {"x": {"field": "x1", "type": "quantitative"}, "x2": {"field": "x2"}, "y": {"field": "y1", "type": "quantitative"}, "y2": {"field": "y2"}}},
               {"mark": {"type": "text", "font": "Open Sans", "fontWeight": "bold", "fontSize": 82, "color": "#ffffff", "align": "center", "baseline": "middle"},
                "encoding": {"x": {"field": "xc", "type": "quantitative"}, "y": {"field": "yc", "type": "quantitative"}, "text": {"field": "t"}}}
             ]},
            {"data": {"values": [{"x": 1015, "y": 350}]},
             "mark": {"type": "text", "align": "left", "baseline": "bottom", "dy": -3, "font": "DejaVu Sans", "fontSize": 24, "color": "#333333"},
             "encoding": {"x": {"field": "x", "type": "quantitative"}, "y": {"field": "y", "type": "quantitative"}, "text": {"value": "×10³"}}}
          ]
        }
      ]
    },
    {
      "spacing": 100,
      "hconcat": [
        {
          "width": 1100, "height": 744,
          "layer": [
            {"data": {"name": "zn_pts"}, "mark": {"type": "circle", "size": 50, "color": "#111111", "opacity": 1},
             "encoding": {
               "x": {"field": "x", "type": "quantitative", "scale": {"domain": [1015, 1050], "nice": false, "zero": false},
                     "axis": {"values": [1015,1017.5,1020,1022.5,1025,1027.5,1030,1032.5,1035,1037.5,1040,1042.5,1045,1047.5,1050],
                              "format": "d", "labelExpr": "datum.value % 5 == 0 ? datum.label : ''",
                              "tickSize": {"condition": {"test": "datum.value % 5 == 0", "value": 16}, "value": 8},
                              "tickWidth": 3, "tickColor": "#333333", "labelFont": "DejaVu Sans", "labelFontSize": 30,
                              "labelColor": "#333333", "labelPadding": 10, "title": ["Binding Energy (eV)", ""], "titleLineHeight": 66, "titleFont": "DejaVu Sans",
                              "titleFontSize": 37, "titleFontWeight": "normal", "titleColor": "#333333", "titlePadding": 23}},
               "y": {"field": "y", "type": "quantitative", "scale": {"domain": [50, 350], "nice": false, "zero": false},
                     "axis": {"values": [50,75,100,125,150,175,200,225,250,275,300,325,350],
                              "format": "d", "labelExpr": "datum.value % 50 == 0 ? datum.label : ''",
                              "tickSize": {"condition": {"test": "datum.value % 50 == 0", "value": 16}, "value": 8},
                              "tickWidth": 3, "tickColor": "#333333", "labelFont": "DejaVu Sans", "labelFontSize": 30,
                              "labelColor": "#333333", "labelPadding": 10, "title": "Intensity (a.u)", "titleFont": "DejaVu Sans",
                              "titleFontSize": 37, "titleFontWeight": "normal", "titleColor": "#333333", "titlePadding": 33}}
             }},
            {"data": {"values": [{"x": 1015, "y": 101}, {"x": 1050, "y": 101}]},
             "mark": {"type": "line", "color": "#8ee68e", "strokeWidth": 3},
             "encoding": {"x": {"field": "x", "type": "quantitative"}, "y": {"field": "y", "type": "quantitative"}}},
            {"data": {"name": "zn_fit1"}, "mark": {"type": "line", "color": "#ff2020", "strokeWidth": 9, "strokeJoin": "round", "interpolate": "monotone"},
             "encoding": {"x": {"field": "x", "type": "quantitative"}, "y": {"field": "y", "type": "quantitative"}}},
            {"data": {"values": [{"x": 1041.5, "y": 101}, {"x": 1047.6, "y": 101}]},
             "mark": {"type": "line", "color": "#b40d0d", "strokeWidth": 5},
             "encoding": {"x": {"field": "x", "type": "quantitative"}, "y": {"field": "y", "type": "quantitative"}}},
            {"data": {"name": "zn_fit2"}, "mark": {"type": "line", "color": "#ff2020", "strokeWidth": 4, "interpolate": "monotone"},
             "encoding": {"x": {"field": "x", "type": "quantitative"}, "y": {"field": "y", "type": "quantitative"}}},
            {"data": {"name": "zn_lab"}, "mark": {"type": "text", "align": "right", "baseline": "alphabetic", "font": "DejaVu Sans", "fontSize": 33, "color": "#262626"},
             "encoding": {"x": {"field": "x", "type": "quantitative"}, "y": {"field": "y", "type": "quantitative"}, "text": {"field": "main"}}},
            {"data": {"name": "zn_lab"}, "mark": {"type": "text", "align": "left", "baseline": "alphabetic", "dy": 8, "font": "DejaVu Sans", "fontSize": 22, "color": "#262626"},
             "encoding": {"x": {"field": "x", "type": "quantitative"}, "y": {"field": "y", "type": "quantitative"}, "text": {"field": "sub"}}},
            {"data": {"values": [{"x1": 1041.5, "x2": 1048.9, "y1": 269.5, "y2": 340, "xc": 1045.2, "yc": 304.8, "t": "(c)"}]},
             "layer": [
               {"mark": {"type": "rect", "color": "#ed7d31"},
                "encoding": {"x": {"field": "x1", "type": "quantitative"}, "x2": {"field": "x2"}, "y": {"field": "y1", "type": "quantitative"}, "y2": {"field": "y2"}}},
               {"mark": {"type": "text", "font": "Open Sans", "fontWeight": "bold", "fontSize": 82, "color": "#ffffff", "align": "center", "baseline": "middle"},
                "encoding": {"x": {"field": "xc", "type": "quantitative"}, "y": {"field": "yc", "type": "quantitative"}, "text": {"field": "t"}}}
             ]},
            {"data": {"values": [{"x": 1015, "y": 350}]},
             "mark": {"type": "text", "align": "left", "baseline": "bottom", "dy": -43, "lineHeight": 40, "font": "DejaVu Sans", "fontSize": 24, "color": "#333333"},
             "encoding": {"x": {"field": "x", "type": "quantitative"}, "y": {"field": "y", "type": "quantitative"}, "text": {"value": ["", "×10³"]}}}
          ]
        },
        {
          "width": 1100, "height": 744,
          "layer": [
            {"data": {"values": [{"x": 527, "y": 49.2}, {"x": 536, "y": 49.2}]},
             "mark": {"type": "line", "color": "#c81e1e", "strokeWidth": 4},
             "encoding": {
               "x": {"field": "x", "type": "quantitative", "scale": {"domain": [527, 536], "nice": false, "zero": false},
                     "axis": {"values": [527,527.5,528,528.5,529,529.5,530,530.5,531,531.5,532,532.5,533,533.5,534,534.5,535,535.5,536],
                              "format": "d", "labelExpr": "datum.value % 1 == 0 ? datum.label : ''",
                              "tickSize": {"condition": {"test": "datum.value % 1 == 0", "value": 16}, "value": 8},
                              "tickWidth": 3, "tickColor": "#333333", "labelFont": "DejaVu Sans", "labelFontSize": 30,
                              "labelColor": "#333333", "labelPadding": 10, "title": ["Binding Energy (eV)", ""], "titleLineHeight": 66, "titleFont": "DejaVu Sans",
                              "titleFontSize": 37, "titleFontWeight": "normal", "titleColor": "#333333", "titlePadding": 23}},
               "y": {"field": "y", "type": "quantitative", "scale": {"domain": [49, 110], "nice": false, "zero": false},
                     "axis": {"values": [50,55,60,65,70,75,80,85,90,95,100,105,110],
                              "format": "d", "labelExpr": "datum.value % 10 == 0 ? datum.label : ''",
                              "tickSize": {"condition": {"test": "datum.value % 10 == 0", "value": 16}, "value": 8},
                              "tickWidth": 3, "tickColor": "#333333", "labelFont": "DejaVu Sans", "labelFontSize": 30,
                              "labelColor": "#333333", "labelPadding": 10, "title": "Intensity (a.u)", "titleFont": "DejaVu Sans",
                              "titleFontSize": 37, "titleFontWeight": "normal", "titleColor": "#333333", "titlePadding": 33}}
             }},
            {"data": {"name": "o1s"}, "mark": {"type": "area", "color": "#f99b2c", "opacity": 1},
             "encoding": {"x": {"field": "x", "type": "quantitative"}, "y": {"field": "a", "type": "quantitative"}, "y2": {"datum": 49.2}}},
            {"data": {"name": "o1s"}, "mark": {"type": "area", "color": "#678d1b", "opacity": 1},
             "encoding": {"x": {"field": "x", "type": "quantitative"}, "y": {"field": "b", "type": "quantitative"}, "y2": {"datum": 49.2}}},
            {"data": {"name": "o1s"}, "mark": {"type": "area", "color": "#6dbb6a", "opacity": 1},
             "encoding": {"x": {"field": "x", "type": "quantitative"}, "y": {"field": "ab", "type": "quantitative"}, "y2": {"datum": 49.2}}},
            {"data": {"name": "o1s"}, "mark": {"type": "area", "color": "#8f9df6", "opacity": 1},
             "encoding": {"x": {"field": "x", "type": "quantitative"}, "y": {"field": "c", "type": "quantitative"}, "y2": {"datum": 49.2}}},
            {"data": {"name": "o1s"}, "mark": {"type": "area", "color": "#46637f", "opacity": 1},
             "encoding": {"x": {"field": "x", "type": "quantitative"}, "y": {"field": "bc", "type": "quantitative"}, "y2": {"datum": 49.2}}},
            {"data": {"name": "o1s"}, "mark": {"type": "line", "color": "#f08a10", "strokeWidth": 3},
             "encoding": {"x": {"field": "x", "type": "quantitative"}, "y": {"field": "a", "type": "quantitative"}}},
            {"data": {"name": "o1s"}, "mark": {"type": "line", "color": "#1e9e2a", "strokeWidth": 4},
             "encoding": {"x": {"field": "x", "type": "quantitative"}, "y": {"field": "b", "type": "quantitative"}}},
            {"data": {"name": "o1s"}, "mark": {"type": "line", "color": "#1f2ef5", "strokeWidth": 4},
             "encoding": {"x": {"field": "x", "type": "quantitative"}, "y": {"field": "c", "type": "quantitative"}}},
            {"data": {"name": "o1s"}, "mark": {"type": "line", "color": "#ff2020", "strokeWidth": 4},
             "encoding": {"x": {"field": "x", "type": "quantitative"}, "y": {"field": "env", "type": "quantitative"}}},
            {"data": {"name": "o1s_pts"}, "mark": {"type": "circle", "size": 36, "color": "#111111", "opacity": 1},
             "encoding": {"x": {"field": "x", "type": "quantitative"}, "y": {"field": "y", "type": "quantitative"}}},
            {"data": {"values": [{"x": 528.35, "y": 98.2, "t": "O 1s"}]},
             "mark": {"type": "text", "align": "left", "baseline": "alphabetic", "font": "DejaVu Sans", "fontSize": 34, "color": "#262626"},
             "encoding": {"x": {"field": "x", "type": "quantitative"}, "y": {"field": "y", "type": "quantitative"}, "text": {"field": "t"}}},
            {"data": {"values": [{"x": 530.15, "y": 84.4, "t": "(a)"}, {"x": 531.68, "y": 74.6, "t": "(b)"}, {"x": 533.11, "y": 54.5, "t": "(c)"}]},
             "mark": {"type": "text", "align": "center", "baseline": "middle", "font": "DejaVu Sans", "fontSize": 32, "color": "#1a1a1a"},
             "encoding": {"x": {"field": "x", "type": "quantitative"}, "y": {"field": "y", "type": "quantitative"}, "text": {"field": "t"}}},
            {"data": {"values": [{"x1": 533.74, "x2": 535.64, "y1": 93.8, "y2": 108.1, "xc": 534.69, "yc": 100.95, "t": "(d)"}]},
             "layer": [
               {"mark": {"type": "rect", "color": "#ed7d31"},
                "encoding": {"x": {"field": "x1", "type": "quantitative"}, "x2": {"field": "x2"}, "y": {"field": "y1", "type": "quantitative"}, "y2": {"field": "y2"}}},
               {"mark": {"type": "text", "font": "Open Sans", "fontWeight": "bold", "fontSize": 82, "color": "#ffffff", "align": "center", "baseline": "middle"},
                "encoding": {"x": {"field": "xc", "type": "quantitative"}, "y": {"field": "yc", "type": "quantitative"}, "text": {"field": "t"}}}
             ]},
            {"data": {"values": [{"x": 527, "y": 110}]},
             "mark": {"type": "text", "align": "left", "baseline": "bottom", "dy": -43, "lineHeight": 40, "font": "DejaVu Sans", "fontSize": 24, "color": "#333333"},
             "encoding": {"x": {"field": "x", "type": "quantitative"}, "y": {"field": "y", "type": "quantitative"}, "text": {"value": ["", "×10³"]}}}
          ]
        }
      ]
    },
    {
      "spacing": 39,
      "hconcat": [
        {
          "width": 1160, "height": 784,
          "layer": [
            {"data": {"name": "survey"}, "mark": {"type": "line", "color": "#1d6fc4", "strokeWidth": 4.5, "clip": true},
             "encoding": {
               "x": {"field": "x", "type": "quantitative", "scale": {"domain": [0, 1100], "nice": false, "zero": false},
                     "axis": {"values": [0,200,400,600,800,1000], "format": "d", "tickSize": 14, "tickWidth": 3, "tickColor": "#1a1a1a",
                              "labelFont": "Open Sans", "labelFontSize": 46, "labelColor": "#404040", "labelPadding": 19,
                              "title": "Biding Energy (eV)", "titleFont": "Open Sans", "titleFontSize": 49, "titleFontWeight": "bold",
                              "titleColor": "#1a1a1a", "titlePadding": 50}},
               "y": {"field": "e", "type": "quantitative", "scale": {"domain": [0, 12], "nice": false, "zero": false},
                     "axis": {"values": [0,2,4,6,8,10,12], "format": "d", "tickSize": 16, "tickWidth": 3, "tickColor": "#1a1a1a",
                              "labelFont": "Open Sans", "labelFontSize": 46, "labelColor": "#404040", "labelPadding": 8,
                              "title": "Intensity (cps x1000)", "titleFont": "Open Sans", "titleFontSize": 49, "titleFontWeight": "bold",
                              "titleColor": "#1a1a1a", "titlePadding": 56}}
             }},
            {"data": {"values": [{"x": 34, "y": 1.58, "t": "Zn 3d"}, {"x": 94, "y": 2.12, "t": "Zn 3p"}, {"x": 154, "y": 1.63, "t": "Zn 3s"}, {"x": 276, "y": 5.23, "t": "C 1s"}, {"x": 406, "y": 5.23, "t": "Zn-LMM"}]},
             "mark": {"type": "text", "angle": 270, "align": "left", "baseline": "middle", "font": "Open Sans", "fontWeight": "bold", "fontSize": 40, "color": "#111111"},
             "encoding": {"x": {"field": "x", "type": "quantitative"}, "y": {"field": "y", "type": "quantitative"}, "text": {"field": "t"}}},
            {"data": {"values": [{"x": 219, "y": 4.0, "t": "Ar 2p", "s": "3/2"}]},
             "layer": [
               {"mark": {"type": "text", "angle": 270, "align": "right", "baseline": "middle", "font": "Open Sans", "fontWeight": "bold", "fontSize": 40, "color": "#111111"},
                "encoding": {"x": {"field": "x", "type": "quantitative"}, "y": {"field": "y", "type": "quantitative"}, "text": {"field": "t"}}},
               {"mark": {"type": "text", "angle": 270, "align": "left", "baseline": "middle", "dy": 9, "font": "Open Sans", "fontStyle": "italic", "fontSize": 28, "color": "#555555"},
                "encoding": {"x": {"field": "x", "type": "quantitative"}, "y": {"field": "y", "type": "quantitative"}, "text": {"field": "s"}}}
             ]},
            {"data": {"values": [{"x": 557, "y": 6.63, "t": "O 1s"}]},
             "mark": {"type": "text", "align": "center", "baseline": "alphabetic", "font": "Open Sans", "fontWeight": 600, "fontSize": 46, "color": "#111111"},
             "encoding": {"x": {"field": "x", "type": "quantitative"}, "y": {"field": "y", "type": "quantitative"}, "text": {"field": "t"}}},
            {"data": {"values": [{"x": 828, "y": 9.96, "t": "Zn 2p", "s": "1/2"}, {"x": 798, "y": 8.63, "t": "Zn 2p", "s": "3/2"}]},
             "layer": [
               {"mark": {"type": "text", "align": "right", "baseline": "alphabetic", "font": "Open Sans", "fontWeight": "bold", "fontSize": 46, "color": "#111111"},
                "encoding": {"x": {"field": "x", "type": "quantitative"}, "y": {"field": "y", "type": "quantitative"}, "text": {"field": "t"}}},
               {"mark": {"type": "text", "align": "left", "baseline": "alphabetic", "dy": 11, "font": "Open Sans", "fontWeight": "bold", "fontSize": 31, "color": "#111111"},
                "encoding": {"x": {"field": "x", "type": "quantitative"}, "y": {"field": "y", "type": "quantitative"}, "text": {"field": "s"}}}
             ]},
            {"data": {"values": [{"x1": 909, "x2": 1029, "y": 10.2}, {"x1": 879, "x2": 1002, "y": 8.9}]},
             "layer": [
               {"mark": {"type": "rule", "color": "#000000", "strokeWidth": 5},
                "encoding": {"x": {"field": "x1", "type": "quantitative"}, "x2": {"field": "x2"}, "y": {"field": "y", "type": "quantitative"}}},
               {"mark": {"type": "point", "shape": "triangle-right", "filled": true, "size": 650, "color": "#000000", "opacity": 1},
                "encoding": {"x": {"field": "x2", "type": "quantitative"}, "y": {"field": "y", "type": "quantitative"}}}
             ]},
            {"data": {"values": [{"x1": 37, "x2": 278, "y1": 8.8, "y2": 11.8, "xc": 157.5, "yc": 10.3, "t": "(e)"}]},
             "layer": [
               {"mark": {"type": "rect", "color": "#ed7d31"},
                "encoding": {"x": {"field": "x1", "type": "quantitative"}, "x2": {"field": "x2"}, "y": {"field": "y1", "type": "quantitative"}, "y2": {"field": "y2"}}},
               {"mark": {"type": "text", "font": "Open Sans", "fontSize": 100, "color": "#fff2cc", "align": "center", "baseline": "middle"},
                "encoding": {"x": {"field": "xc", "type": "quantitative"}, "y": {"field": "yc", "type": "quantitative"}, "text": {"field": "t"}}}
             ]}
          ]
        },
        {
          "width": 1158, "height": 784,
          "layer": [
            {"data": {"name": "survey"}, "mark": {"type": "line", "color": "#1d6fc4", "strokeWidth": 4.5, "clip": true},
             "encoding": {
               "x": {"field": "x", "type": "quantitative", "scale": {"domain": [0, 1100], "nice": false, "zero": false},
                     "axis": {"values": [0,200,400,600,800,1000], "format": "d", "tickSize": 14, "tickWidth": 3, "tickColor": "#1a1a1a",
                              "labelFont": "Open Sans", "labelFontSize": 46, "labelColor": "#404040", "labelPadding": 19,
                              "title": "Biding Energy (eV)", "titleFont": "Open Sans", "titleFontSize": 49, "titleFontWeight": "bold",
                              "titleColor": "#1a1a1a", "titlePadding": 50}},
               "y": {"field": "f", "type": "quantitative", "scale": {"domain": [0, 16], "nice": false, "zero": false},
                     "axis": {"values": [0,2,4,6,8,10,12,14,16], "format": "d", "tickSize": 16, "tickWidth": 3, "tickColor": "#1a1a1a",
                              "labelFont": "Open Sans", "labelFontSize": 46, "labelColor": "#404040", "labelPadding": 8,
                              "title": "Intensity (cps x1000)", "titleFont": "Open Sans", "titleFontSize": 49, "titleFontWeight": "bold",
                              "titleColor": "#1a1a1a", "titlePadding": 68}}
             }},
            {"data": {"values": [{"x": 30, "y": 2.07, "t": "Zn 3d"}, {"x": 88, "y": 1.87, "t": "Zn 3p"}, {"x": 146, "y": 1.41, "t": "Zn 3s"}, {"x": 281, "y": 5.23, "t": "C 1s"}, {"x": 412, "y": 5.82, "t": "Zn-LMM"}]},
             "mark": {"type": "text", "angle": 270, "align": "left", "baseline": "middle", "font": "Open Sans", "fontWeight": "bold", "fontSize": 40, "color": "#111111"},
             "encoding": {"x": {"field": "x", "type": "quantitative"}, "y": {"field": "y", "type": "quantitative"}, "text": {"field": "t"}}},
            {"data": {"values": [{"x": 219, "y": 4.57, "t": "Ar 2p", "s": "3/2"}]},
             "layer": [
               {"mark": {"type": "text", "angle": 270, "align": "right", "baseline": "middle", "font": "Open Sans", "fontWeight": "bold", "fontSize": 40, "color": "#111111"},
                "encoding": {"x": {"field": "x", "type": "quantitative"}, "y": {"field": "y", "type": "quantitative"}, "text": {"field": "t"}}},
               {"mark": {"type": "text", "angle": 270, "align": "left", "baseline": "middle", "dy": 9, "font": "Open Sans", "fontStyle": "italic", "fontSize": 28, "color": "#555555"},
                "encoding": {"x": {"field": "x", "type": "quantitative"}, "y": {"field": "y", "type": "quantitative"}, "text": {"field": "s"}}}
             ]},
            {"data": {"values": [{"x": 547, "y": 7.47, "t": "O 1s"}]},
             "mark": {"type": "text", "align": "center", "baseline": "alphabetic", "font": "Open Sans", "fontWeight": 600, "fontSize": 46, "color": "#111111"},
             "encoding": {"x": {"field": "x", "type": "quantitative"}, "y": {"field": "y", "type": "quantitative"}, "text": {"field": "t"}}},
            {"data": {"values": [{"x": 777, "y": 10.9, "t": "Zn 2p", "s": "1/2"}, {"x": 751, "y": 9.08, "t": "Zn 2p", "s": "3/2"}]},
             "layer": [
               {"mark": {"type": "text", "align": "right", "baseline": "alphabetic", "font": "Open Sans", "fontWeight": "bold", "fontSize": 46, "color": "#111111"},
                "encoding": {"x": {"field": "x", "type": "quantitative"}, "y": {"field": "y", "type": "quantitative"}, "text": {"field": "t"}}},
               {"mark": {"type": "text", "align": "left", "baseline": "alphabetic", "dy": 11, "font": "Open Sans", "fontWeight": "bold", "fontSize": 31, "color": "#111111"},
                "encoding": {"x": {"field": "x", "type": "quantitative"}, "y": {"field": "y", "type": "quantitative"}, "text": {"field": "s"}}}
             ]},
            {"data": {"values": [{"x1": 884, "x2": 1033, "y": 11.16}, {"x1": 856, "x2": 1007, "y": 9.34}]},
             "layer": [
               {"mark": {"type": "rule", "color": "#000000", "strokeWidth": 5},
                "encoding": {"x": {"field": "x1", "type": "quantitative"}, "x2": {"field": "x2"}, "y": {"field": "y", "type": "quantitative"}}},
               {"mark": {"type": "point", "shape": "triangle-right", "filled": true, "size": 650, "color": "#000000", "opacity": 1},
                "encoding": {"x": {"field": "x2", "type": "quantitative"}, "y": {"field": "y", "type": "quantitative"}}}
             ]},
            {"data": {"values": [{"x1": 40, "x2": 277, "y1": 11.71, "y2": 15.73, "xc": 158.5, "yc": 13.72, "t": "(f)"}]},
             "layer": [
               {"mark": {"type": "rect", "color": "#ed7d31"},
                "encoding": {"x": {"field": "x1", "type": "quantitative"}, "x2": {"field": "x2"}, "y": {"field": "y1", "type": "quantitative"}, "y2": {"field": "y2"}}},
               {"mark": {"type": "text", "font": "Open Sans", "fontSize": 100, "color": "#fff2cc", "align": "center", "baseline": "middle"},
                "encoding": {"x": {"field": "xc", "type": "quantitative"}, "y": {"field": "yc", "type": "quantitative"}, "text": {"field": "t"}}}
             ]}
          ]
        }
      ]
    },
    {
      "width": 1159, "height": 788,
      "layer": [
        {"data": {"name": "survey"}, "mark": {"type": "line", "color": "#1d6fc4", "strokeWidth": 4.5, "clip": true},
         "encoding": {
           "x": {"field": "x", "type": "quantitative", "scale": {"domain": [0, 1100], "nice": false, "zero": false},
                 "axis": {"values": [0,200,400,600,800,1000], "format": "d", "tickSize": 14, "tickWidth": 3, "tickColor": "#1a1a1a",
                          "labelFont": "Open Sans", "labelFontSize": 46, "labelColor": "#404040", "labelPadding": 19,
                          "title": "Biding Energy (eV)", "titleFont": "Open Sans", "titleFontSize": 49, "titleFontWeight": "bold",
                          "titleColor": "#1a1a1a", "titlePadding": 50}},
           "y": {"field": "g", "type": "quantitative", "scale": {"domain": [0, 16], "nice": false, "zero": false},
                 "axis": {"values": [0,2,4,6,8,10,12,14,16], "format": "d", "tickSize": 16, "tickWidth": 3, "tickColor": "#1a1a1a",
                          "labelFont": "Open Sans", "labelFontSize": 46, "labelColor": "#404040", "labelPadding": 8,
                          "title": "Intensity (cps x1000)", "titleFont": "Open Sans", "titleFontSize": 49, "titleFontWeight": "bold",
                          "titleColor": "#1a1a1a", "titlePadding": 71}}
         }},
        {"data": {"values": [{"x": 31, "y": 2.25, "t": "Zn 3d"}, {"x": 91, "y": 2.03, "t": "Zn 3p"}, {"x": 147, "y": 1.59, "t": "Zn 3s"}, {"x": 284, "y": 5.49, "t": "C 1s"}, {"x": 356, "y": 5.71, "t": "Zn-LMM"}]},
         "mark": {"type": "text", "angle": 270, "align": "left", "baseline": "middle", "font": "Open Sans", "fontWeight": "bold", "fontSize": 40, "color": "#111111"},
         "encoding": {"x": {"field": "x", "type": "quantitative"}, "y": {"field": "y", "type": "quantitative"}, "text": {"field": "t"}}},
        {"data": {"values": [{"x": 219, "y": 4.46, "t": "Ar 2p", "s": "3/2"}]},
         "layer": [
           {"mark": {"type": "text", "angle": 270, "align": "right", "baseline": "middle", "font": "Open Sans", "fontWeight": "bold", "fontSize": 40, "color": "#111111"},
            "encoding": {"x": {"field": "x", "type": "quantitative"}, "y": {"field": "y", "type": "quantitative"}, "text": {"field": "t"}}},
           {"mark": {"type": "text", "angle": 270, "align": "left", "baseline": "middle", "dy": 9, "font": "Open Sans", "fontStyle": "italic", "fontSize": 28, "color": "#555555"},
            "encoding": {"x": {"field": "x", "type": "quantitative"}, "y": {"field": "y", "type": "quantitative"}, "text": {"field": "s"}}}
         ]},
        {"data": {"values": [{"x": 509, "y": 9.16, "t": "O 1s"}]},
         "mark": {"type": "text", "align": "center", "baseline": "alphabetic", "font": "Open Sans", "fontWeight": 600, "fontSize": 46, "color": "#111111"},
         "encoding": {"x": {"field": "x", "type": "quantitative"}, "y": {"field": "y", "type": "quantitative"}, "text": {"field": "t"}}},
        {"data": {"values": [{"x": 789, "y": 10.93, "t": "Zn 2p", "s": "1/2"}, {"x": 763, "y": 9.3, "t": "Zn 2p", "s": "3/2"}]},
         "layer": [
           {"mark": {"type": "text", "align": "right", "baseline": "alphabetic", "font": "Open Sans", "fontWeight": "bold", "fontSize": 46, "color": "#111111"},
            "encoding": {"x": {"field": "x", "type": "quantitative"}, "y": {"field": "y", "type": "quantitative"}, "text": {"field": "t"}}},
           {"mark": {"type": "text", "align": "left", "baseline": "alphabetic", "dy": 11, "font": "Open Sans", "fontWeight": "bold", "fontSize": 31, "color": "#111111"},
            "encoding": {"x": {"field": "x", "type": "quantitative"}, "y": {"field": "y", "type": "quantitative"}, "text": {"field": "s"}}}
         ]},
        {"data": {"values": [{"x1": 883, "x2": 1032, "y": 10.9}, {"x1": 858, "x2": 1002, "y": 9.6}]},
         "layer": [
           {"mark": {"type": "rule", "color": "#000000", "strokeWidth": 5},
            "encoding": {"x": {"field": "x1", "type": "quantitative"}, "x2": {"field": "x2"}, "y": {"field": "y", "type": "quantitative"}}},
           {"mark": {"type": "point", "shape": "triangle-right", "filled": true, "size": 650, "color": "#000000", "opacity": 1},
            "encoding": {"x": {"field": "x2", "type": "quantitative"}, "y": {"field": "y", "type": "quantitative"}}}
         ]},
        {"data": {"values": [{"x1": 28, "x2": 266.5, "y1": 11.85, "y2": 15.85, "xc": 147.25, "yc": 13.85, "t": "(g)"}]},
         "layer": [
           {"mark": {"type": "rect", "color": "#ed7d31"},
            "encoding": {"x": {"field": "x1", "type": "quantitative"}, "x2": {"field": "x2"}, "y": {"field": "y1", "type": "quantitative"}, "y2": {"field": "y2"}}},
           {"mark": {"type": "text", "font": "Open Sans", "fontSize": 100, "color": "#fff2cc", "align": "center", "baseline": "middle"},
            "encoding": {"x": {"field": "xc", "type": "quantitative"}, "y": {"field": "yc", "type": "quantitative"}, "text": {"field": "t"}}}
         ]}
      ]
    }
  ],
  "config": {
    "view": {"stroke": "#1a1a1a", "strokeWidth": 5},
    "axis": {"grid": false, "domain": false, "labelFlush": false, "labelOverlap": false}
  }
}
